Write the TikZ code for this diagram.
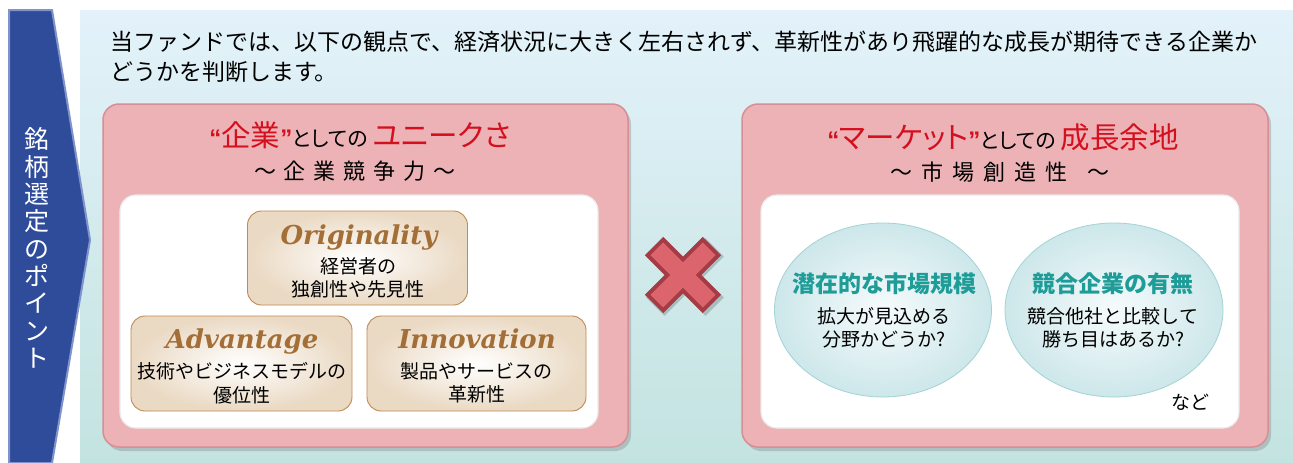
\documentclass[tikz,border=0pt]{standalone}
\usepackage{fontspec}
\newfontfamily\jp{Noto Sans CJK JP}
\newfontfamily\jpp[RawFeature=+palt]{Noto Sans CJK JP}
\newfontfamily\lat{Liberation Sans}
\newfontfamily\dserif{DejaVu Serif}
\usetikzlibrary{shadows,shapes.geometric}
\definecolor{bgtop}{HTML}{E3F2FA}
\definecolor{bgbot}{HTML}{C3E3E0}
\definecolor{bannerfill}{HTML}{2F4C9B}
\definecolor{banneredge}{HTML}{8094CB}
\definecolor{pinkfill}{HTML}{ECB2B6}
\definecolor{pinkedge}{HTML}{D88E95}
\definecolor{tanedge}{HTML}{C08A52}
\definecolor{tanout}{HTML}{EAD9C3}
\definecolor{brown}{HTML}{A36F36}
\definecolor{titlered}{HTML}{D40F1E}
\definecolor{tealtxt}{HTML}{1E9C98}
\definecolor{elledge}{HTML}{A3D3D6}
\definecolor{ellout}{HTML}{CDE7EA}
\definecolor{ellin}{HTML}{F6FBFC}
\definecolor{xface}{HTML}{DC646C}
\definecolor{xdark}{HTML}{A53B44}
\newcommand\gp{\hspace{8pt}}
\newcommand\qo{{\lat\bfseries\fontsize{24}{24}\selectfont\color{titlered}“}}
\newcommand\qc{{\lat\bfseries\fontsize{24}{24}\selectfont\color{titlered}”}}
\newcommand\rbig[1]{{\fontsize{29.5}{30}\selectfont\color{titlered}#1}}
\begin{document}
\begin{tikzpicture}[x=1pt,y=-1pt,
  pinkbox/.style={draw=pinkedge,line width=1.5pt,fill=pinkfill,rounded corners=16pt,inner sep=0pt,
    drop shadow={opacity=0.35,shadow xshift=3pt,shadow yshift=-4pt}},
  whitebox/.style={draw=black!8,line width=1.2pt,fill=white,rounded corners=16pt,inner sep=0pt},
  tanbox/.style={draw=tanedge,line width=0.9pt,rounded corners=14pt,inner sep=0pt,inner color=white,outer color=tanout},
  ellbox/.style={ellipse,draw=elledge,line width=0.8pt,inner color=ellin,outer color=ellout,inner sep=0pt},
  lattitle/.style={font=\dserif\fontsize{26}{28}\selectfont\bfseries\itshape,text=brown,inner sep=0pt,anchor=base},
  body/.style={font=\jp\fontsize{19}{23.5}\selectfont,align=center,inner sep=0pt},
  tealtitle/.style={font=\jp\bfseries\fontsize{23}{26}\selectfont,text=tealtxt,inner sep=0pt},
  big/.style={font=\jp\fontsize{22}{26}\selectfont,inner sep=0pt,align=center},
  ttl/.style={font=\jpp\fontsize{21}{26}\selectfont,inner sep=0pt}
]
\useasboundingbox (0,0) rectangle (1293,463);
\fill[white] (0,0) rectangle (1293,463);
\shade[top color=bgtop,bottom color=bgbot] (80,10) rectangle (1293,463);
% banner
\draw[fill=bannerfill,draw=banneredge,line width=2pt,line join=miter] (9,10) -- (52,10) -- (90,240) -- (52,463) -- (9,463) -- cycle;
\node[font=\jp\fontsize{25}{27.3}\selectfont,text=white,align=center,inner sep=0pt] (bannertext) at (37,248)
  {銘\\柄\\選\\定\\の\\ポ\\イ\\ン\\ト};
% header
\node[font=\jp\fontsize{23}{30}\selectfont,align=left,anchor=west,inner sep=0pt] (header) at (110,57)
  {当ファンドでは、以下の観点で、経済状況に大きく左右されず、革新性があり飛躍的な成長が期待できる企業か\\どうかを判断します。};
% left panel
\node[pinkbox,minimum width=525pt,minimum height=343pt] (Lbox) at (365.5,275.5) {};
\node[whitebox,minimum width=478pt,minimum height=233pt] (Lwhite) at (359,311.5) {};
\node[ttl] (Ltitle) at (360,135) {\qo\rbig{企業}\qc としての\hspace{5pt}\rbig{ユニークさ}};
\node[big] (Lsub) at (355,171) {～\gp 企\gp 業\gp 競\gp 争\gp 力\gp ～};
\node[tanbox,minimum width=220pt,minimum height=94pt] (orig) at (357.5,258) {};
\node[tanbox,minimum width=221pt,minimum height=95pt] (adv) at (241.5,363.5) {};
\node[tanbox,minimum width=219pt,minimum height=95pt] (inno) at (476.5,363.5) {};
\node[lattitle] (origT) at (359,244) {Originality};
\node[body] (origB) at (358,278) {経営者の\\独創性や先見性};
\node[lattitle] (advT) at (242,348) {Advantage};
\node[body] (advB) at (241.5,383) {技術やビジネスモデルの\\優位性};
\node[lattitle] (innoT) at (477,348) {Innovation};
\node[body] (innoB) at (476.5,383) {製品やサービスの\\革新性};
% red X
\begin{scope}[shift={(685,277)},rotate=45]
  \fill[black,opacity=0.18] (42,13)--(13,13)--(13,42)--(-13,42)--(-13,13)--(-42,13)--(-42,-13)--(-13,-13)--(-13,-42)--(13,-42)--(13,-13)--(42,-13)--cycle;
\end{scope}
\begin{scope}[shift={(683,275)},rotate=45]
  \fill[xdark] (41,13)--(13,13)--(13,41)--(-13,41)--(-13,13)--(-41,13)--(-41,-13)--(-13,-13)--(-13,-41)--(13,-41)--(13,-13)--(41,-13)--cycle;
  \fill[xface] (37,9)--(9,9)--(9,37)--(-9,37)--(-9,9)--(-37,9)--(-37,-9)--(-9,-9)--(-9,-37)--(9,-37)--(9,-9)--(37,-9)--cycle;
\end{scope}
% right panel
\node[pinkbox,minimum width=526pt,minimum height=343pt] (Rbox) at (1005,275.5) {};
\node[whitebox,minimum width=478pt,minimum height=233pt] (Rwhite) at (1000,311.5) {};
\node[ttl] (Rtitle) at (1003,137) {\qo\rbig{マーケット}\qc としての\hspace{5pt}\rbig{成長余地}};
\node[big] (Rsub) at (1000,172) {～\hspace{9pt}市\hspace{9pt}場\hspace{9pt}創\hspace{9pt}造\hspace{9pt}性\hspace{20pt}～};
\node[ellbox,minimum width=217pt,minimum height=174pt] (e1) at (883,310) {};
\node[ellbox,minimum width=218pt,minimum height=174pt] (e2) at (1114,310) {};
\node[tealtitle] (e1T) at (884,284) {潜在的な市場規模};
\node[body] (e1B) at (884,328) {拡大が見込める\\分野かどうか?};
\node[tealtitle] (e2T) at (1113,284) {競合企業の有無};
\node[body] (e2B) at (1113,328) {競合他社と比較して\\勝ち目はあるか?};
\node[body] (nado) at (1190,402) {など};
\end{tikzpicture}
\end{document}
